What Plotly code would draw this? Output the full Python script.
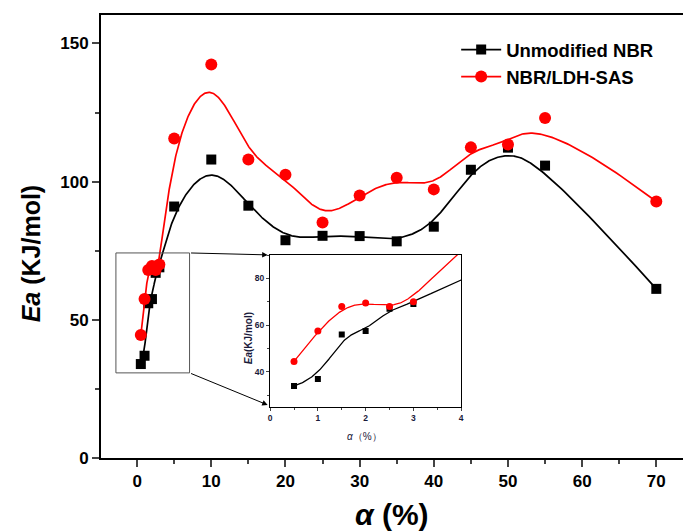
import numpy as np
import plotly.graph_objects as go

# ---- data ----
alpha = [0.5, 1, 1.5, 2, 2.5, 3, 5, 10, 15, 20, 25, 30, 35, 40, 45, 50, 55, 70]
ea_unmod = [34, 37, 56, 57.5, 67, 69, 91, 108, 91.3, 78.8, 80.4, 80.3, 78.4, 83.7, 104.3, 112.3, 105.8, 61.2]
ea_ldh = [44.5, 57.5, 68, 69.5, 68, 70, 115.6, 142.4, 108, 102.5, 85.2, 95, 101.4, 97.2, 112.4, 113.4, 123, 92.8]
names = ["Unmodified NBR", "NBR/LDH-SAS"]
colors = ["black", "#ff0000"]
symbols = ["square", "circle"]
x_ticks = [0, 10, 20, 30, 40, 50, 60, 70]
y_ticks = [0, 50, 100, 150]
inset_x_ticks = [0, 1, 2, 3, 4]
inset_y_ticks = [40, 60, 80]


def bspline(cx, cy, n=900, k=3):
    """Clamped uniform cubic B-spline using the data points as control points
    (the 'B-Spline' connector used by the original plotting software)."""
    P = np.column_stack([cx, cy]).astype(float)
    m = len(P)
    knots = np.concatenate([[0.0] * k, np.arange(m - k + 1, dtype=float), [float(m - k)] * k])
    t = np.linspace(0, m - k, n)
    t[-1] -= 1e-9
    N = np.zeros((n, len(knots) - 1))
    for i in range(len(knots) - 1):
        N[:, i] = (knots[i] <= t) & (t < knots[i + 1])
    for d in range(1, k + 1):
        Nn = np.zeros((n, len(knots) - 1 - d))
        for i in range(len(knots) - 1 - d):
            a = knots[i + d] - knots[i]
            b = knots[i + d + 1] - knots[i + 1]
            term = np.zeros(n)
            if a > 0:
                term += (t - knots[i]) / a * N[:, i]
            if b > 0:
                term += (knots[i + d + 1] - t) / b * N[:, i + 1]
            Nn[:, i] = term
        N = Nn
    C = N @ P
    return C[:, 0], C[:, 1]


FONT = "Arial, 'Liberation Sans', sans-serif"
INK = "#1a1a3a"
fig = go.Figure()

series = [ea_unmod, ea_ldh]
for s, name, col, sym in zip(series, names, colors, symbols):
    bx, by = bspline(alpha, s)
    msize = 10 if sym == "square" else 12
    # main plot
    fig.add_trace(go.Scatter(x=bx, y=by, mode="lines", line=dict(color=col, width=1.7),
                             showlegend=False, hoverinfo="skip", xaxis="x", yaxis="y"))
    fig.add_trace(go.Scatter(x=alpha, y=s, mode="markers",
                             marker=dict(symbol=sym, size=msize, color=col),
                             showlegend=False, xaxis="x", yaxis="y"))
    # legend entry
    fig.add_trace(go.Scatter(x=[None], y=[None], mode="lines+markers", name=name,
                             line=dict(color=col, width=1.7),
                             marker=dict(symbol=sym, size=msize, color=col)))
    # inset
    fig.add_trace(go.Scatter(x=bx, y=by, mode="lines", line=dict(color=col, width=1.3),
                             showlegend=False, hoverinfo="skip", xaxis="x2", yaxis="y2"))
    fig.add_trace(go.Scatter(x=alpha, y=s, mode="markers",
                             marker=dict(symbol=sym, size=6 if sym == "square" else 7, color=col),
                             showlegend=False, xaxis="x2", yaxis="y2", cliponaxis=True))

# layout geometry (pixels)
L, R, T, B = 101, 0, 15, 73
W, H = 686, 531
pw, ph = W - L - R, H - T - B


def px2paper(xp, yp):
    return (xp - L) / pw, (H - B - yp) / ph


ix0, iy0 = px2paper(271, 407)
ix1, iy1 = px2paper(463, 255)

fig.update_layout(
    width=W, height=H,
    margin=dict(l=L, r=R, t=T, b=B),
    paper_bgcolor="white", plot_bgcolor="rgba(0,0,0,0)",
    font=dict(family=FONT, color="black"),
    showlegend=True,
    legend=dict(x=px2paper(458, 0)[0], y=px2paper(0, 31)[1], xanchor="left", yanchor="top",
                bgcolor="rgba(0,0,0,0)", font=dict(family=FONT, size=18.5, color="black", weight="bold"),
                tracegroupgap=0, itemwidth=40),
    xaxis=dict(domain=[0, 1], range=[-4.87, 73.6], tickvals=x_ticks,
               ticks="outside", ticklen=7, tickwidth=1.5, showline=True, linewidth=2,
               linecolor="black", mirror=True, showgrid=False, zeroline=False,
               tickfont=dict(family=FONT, size=17, color="black", weight="bold"),
               minor=dict(dtick=5, tick0=0, ticks="outside", ticklen=4, tickwidth=1.5, showgrid=False)),
    yaxis=dict(domain=[0, 1], range=[0, 160.3], tickvals=y_ticks,
               ticks="outside", ticklen=7, tickwidth=1.5, showline=True, linewidth=2,
               linecolor="black", mirror=False, showgrid=False, zeroline=False,
               tickfont=dict(family=FONT, size=17, color="black", weight="bold"),
               minor=dict(dtick=25, tick0=0, ticks="outside", ticklen=4, tickwidth=1.5, showgrid=False)),
    xaxis2=dict(domain=[ix0, ix1], anchor="y2", range=[0, 4], tickvals=inset_x_ticks,
                ticks="outside", ticklen=3, tickwidth=1, showline=True, linewidth=1.3,
                linecolor="black", mirror=True, showgrid=False, zeroline=False,
                tickfont=dict(family=FONT, size=8.5, color=INK, weight="bold"),
                minor=dict(dtick=0.5, tick0=0, ticks="outside", ticklen=2, showgrid=False)),
    yaxis2=dict(domain=[iy0, iy1], anchor="x2", range=[25, 90], tickvals=inset_y_ticks,
                ticks="outside", ticklen=3, tickwidth=1, showline=True, linewidth=1.3,
                linecolor="black", mirror=True, showgrid=False, zeroline=False,
                tickfont=dict(family=FONT, size=8.5, color=INK, weight="bold"),
                minor=dict(dtick=10, tick0=0, ticks="outside", ticklen=2, showgrid=False)),
)

# white background for the inset
fig.add_shape(type="rect", xref="paper", yref="paper", x0=ix0, x1=ix1, y0=iy0, y1=iy1,
              fillcolor="white", line=dict(width=0), layer="below")

# zoom rectangle on main plot
fig.add_shape(type="rect", xref="x", yref="y", x0=-2.86, x1=7.07, y0=30.8, y1=74.2,
              line=dict(color="#555555", width=1), layer="above")

# connecting arrows
for (tx, ty), (hx, hy) in [((7.07, 74.2), (17.6, 73.5)), ((7.07, 30.8), (17.6, 19.2))]:
    fig.add_annotation(x=hx, y=hy, xref="x", yref="y", ax=tx, ay=ty, axref="x", ayref="y",
                       showarrow=True, arrowhead=2, arrowsize=1.1, arrowwidth=1,
                       arrowcolor="black", text="")

# axis titles
fig.add_annotation(x=px2paper(31, 0)[0], y=px2paper(0, 253)[1], xref="paper", yref="paper",
                   xanchor="center", yanchor="middle",
                   text="<b><i>Ea</i> (KJ/mol)</b>", textangle=-90, showarrow=False,
                   font=dict(family=FONT, size=25, color="black"))
fig.add_annotation(x=px2paper(394, 0)[0], y=px2paper(0, 514)[1], xref="paper", yref="paper",
                   xanchor="center", yanchor="middle",
                   text="<b><i>α</i> (%)</b>", showarrow=False,
                   font=dict(family=FONT, size=30, color="black"))
fig.add_annotation(x=px2paper(249, 0)[0], y=px2paper(0, 338)[1], xref="paper", yref="paper",
                   xanchor="center", yanchor="middle",
                   text="<b><i>Ea</i>(KJ/mol)</b>", textangle=-90, showarrow=False,
                   font=dict(family=FONT, size=10, color=INK))
fig.add_annotation(x=px2paper(366, 0)[0], y=px2paper(0, 436)[1], xref="paper", yref="paper",
                   xanchor="center", yanchor="middle",
                   text="<i>α</i>（%）", showarrow=False,
                   font=dict(family=FONT, size=10, color=INK))

fig.write_html("out.html")
